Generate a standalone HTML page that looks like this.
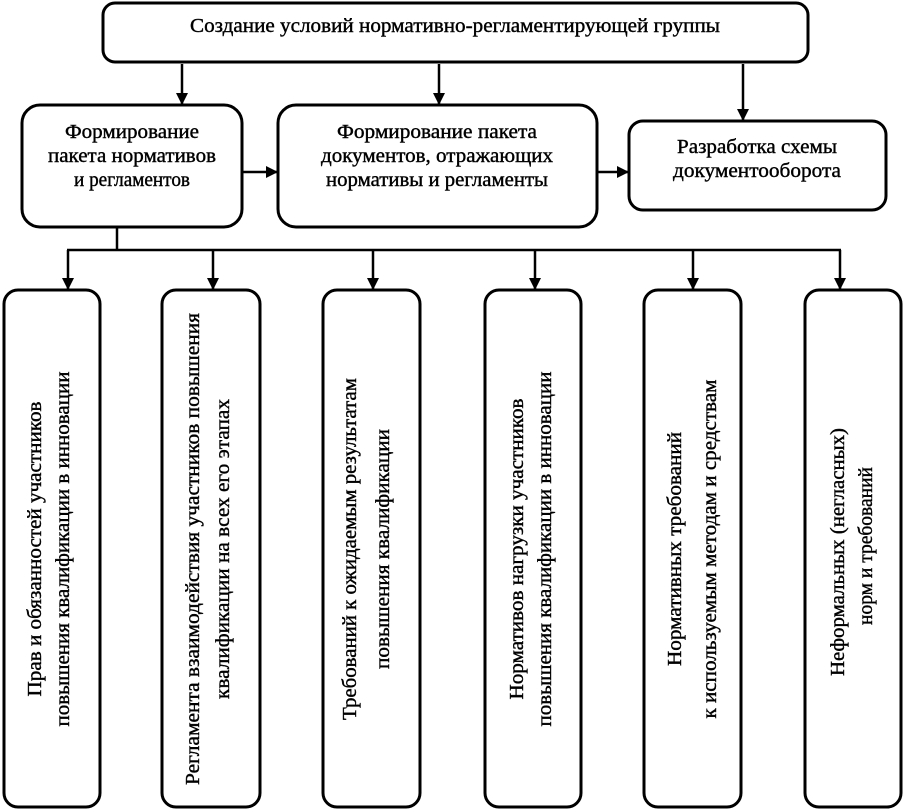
<!DOCTYPE html>
<html><head><meta charset="utf-8"><style>html,body{margin:0;padding:0;background:#fff}svg{display:block}</style></head>
<body>
<svg width="904" height="811" viewBox="0 0 904 811" xmlns="http://www.w3.org/2000/svg" font-family="'Liberation Serif', serif" font-size="20" fill="#000">
<defs><marker id="a" markerWidth="12" markerHeight="12" refX="11" refY="6" orient="auto" markerUnits="userSpaceOnUse"><path d="M0,0 L12,6 L0,12 Z" fill="#000"/></marker></defs>
<g fill="none" stroke="#000" stroke-width="3">
<rect x="103" y="3" width="705" height="59" rx="12"/>
<rect x="22" y="105" width="220" height="122" rx="18"/>
<rect x="278" y="105" width="319" height="122" rx="18"/>
<rect x="629" y="121" width="257" height="89" rx="14"/>
<rect x="4" y="290" width="96" height="517" rx="14"/>
<rect x="162" y="290" width="98" height="517" rx="14"/>
<rect x="323" y="290" width="97" height="517" rx="14"/>
<rect x="485" y="290" width="96" height="517" rx="14"/>
<rect x="644" y="290" width="97" height="517" rx="14"/>
<rect x="805" y="290" width="96" height="517" rx="14"/>
</g>
<g stroke="#000" stroke-width="2.5" fill="none" marker-end="url(#a)">
<line x1="182" y1="64" x2="182" y2="104"/>
<line x1="439" y1="64" x2="439" y2="104"/>
<line x1="743" y1="64" x2="743" y2="120"/>
<line x1="243" y1="172" x2="277" y2="172"/>
<line x1="598" y1="172" x2="628" y2="172"/>
<line x1="68" y1="250" x2="68" y2="289"/>
<line x1="213" y1="250" x2="213" y2="289"/>
<line x1="373" y1="250" x2="373" y2="289"/>
<line x1="535" y1="250" x2="535" y2="289"/>
<line x1="693" y1="250" x2="693" y2="289"/>
<line x1="840" y1="250" x2="840" y2="289"/>
</g>
<g stroke="#000" stroke-width="2.5"><line x1="117" y1="228" x2="117" y2="250"/><line x1="67" y1="250" x2="841" y2="250"/></g>
<g text-anchor="middle" dominant-baseline="central" stroke="#000" stroke-width="0.4">
<text x="455" y="26" textLength="530" lengthAdjust="spacingAndGlyphs">Создание условий нормативно-регламентирующей группы</text>
<text x="132" y="132" textLength="134" lengthAdjust="spacingAndGlyphs">Формирование</text>
<text x="132" y="156" textLength="168" lengthAdjust="spacingAndGlyphs">пакета нормативов</text>
<text x="132" y="180" textLength="116" lengthAdjust="spacingAndGlyphs">и регламентов</text>
<text x="437" y="132" textLength="200" lengthAdjust="spacingAndGlyphs">Формирование пакета</text>
<text x="437" y="156" textLength="232" lengthAdjust="spacingAndGlyphs">документов, отражающих</text>
<text x="437" y="180" textLength="222" lengthAdjust="spacingAndGlyphs">нормативы и регламенты</text>
<text x="757" y="147" textLength="160" lengthAdjust="spacingAndGlyphs">Разработка схемы</text>
<text x="757" y="171" textLength="168" lengthAdjust="spacingAndGlyphs">документооборота</text>
<g transform="translate(35,549) rotate(-90)"><text textLength="295" lengthAdjust="spacingAndGlyphs">Прав и обязанностей участников</text></g>
<g transform="translate(63,549) rotate(-90)"><text textLength="355" lengthAdjust="spacingAndGlyphs">повышения квалификации в инновации</text></g>
<g transform="translate(193,549) rotate(-90)"><text textLength="472" lengthAdjust="spacingAndGlyphs">Регламента взаимодействия  участников повышения</text></g>
<g transform="translate(223,549) rotate(-90)"><text textLength="300" lengthAdjust="spacingAndGlyphs">квалификации на всех его этапах</text></g>
<g transform="translate(350,549) rotate(-90)"><text textLength="342" lengthAdjust="spacingAndGlyphs">Требований к ожидаемым результатам</text></g>
<g transform="translate(383,549) rotate(-90)"><text textLength="240" lengthAdjust="spacingAndGlyphs">повышения квалификации</text></g>
<g transform="translate(517,549) rotate(-90)"><text textLength="301" lengthAdjust="spacingAndGlyphs">Нормативов нагрузки участников</text></g>
<g transform="translate(545,549) rotate(-90)"><text textLength="355" lengthAdjust="spacingAndGlyphs">повышения квалификации в инновации</text></g>
<g transform="translate(675,549) rotate(-90)"><text textLength="234" lengthAdjust="spacingAndGlyphs">Нормативных требований</text></g>
<g transform="translate(710,549) rotate(-90)"><text textLength="339" lengthAdjust="spacingAndGlyphs">к используемым методам и средствам</text></g>
<g transform="translate(838,552) rotate(-90)"><text textLength="248" lengthAdjust="spacingAndGlyphs">Неформальных (негласных)</text></g>
<g transform="translate(866,546) rotate(-90)"><text textLength="158" lengthAdjust="spacingAndGlyphs">норм и требований</text></g>
</g>
</svg>
</body></html>
